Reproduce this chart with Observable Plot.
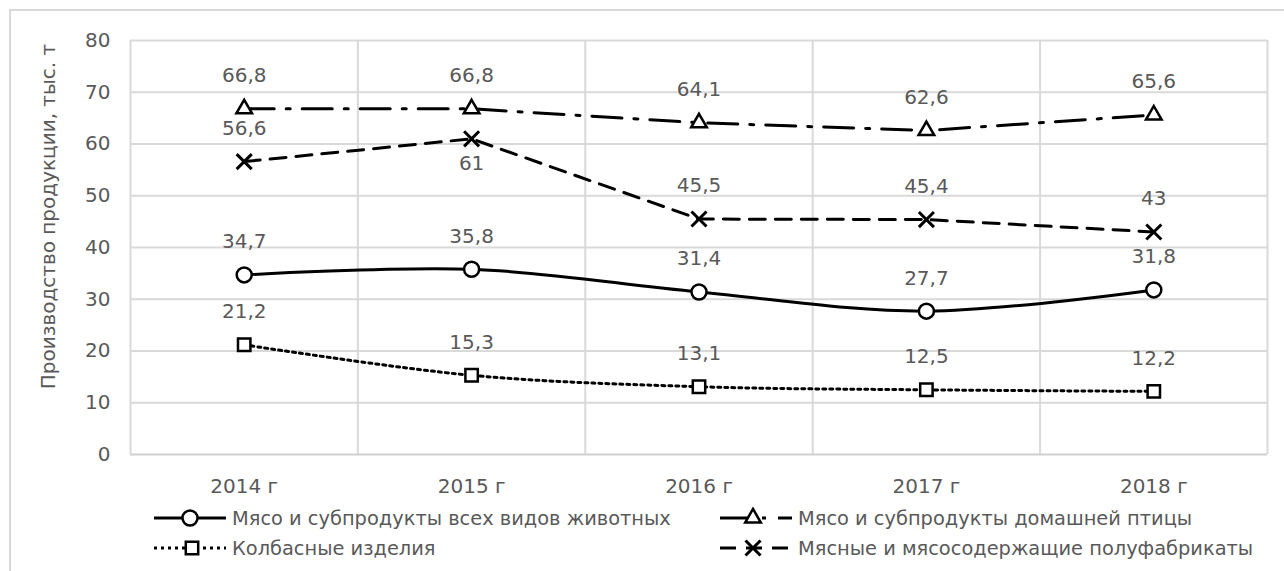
<!DOCTYPE html>
<html>
<head>
<meta charset="utf-8">
<script src="https://cdn.jsdelivr.net/npm/d3@7"></script>
<script src="https://cdn.jsdelivr.net/npm/@observablehq/plot@0.6"></script>
<style>
  html, body { margin: 0; padding: 0; background: #fff; overflow: hidden; }
  body { width: 1284px; height: 571px; position: relative; font-family: "DejaVu Sans", sans-serif; }
  #frame { position: absolute; left: 9px; top: 9px; width: 2000px; height: 2000px;
           border-left: 2px solid #d9d9d9; border-top: 2px solid #d9d9d9; }
  #chart { position: absolute; left: 0; top: 0; }
  #legend { position: absolute; left: 0; top: 503px; width: 1284px; height: 60px; }
  .item { position: absolute; height: 30px; display: flex; align-items: center;
          font-size: 19.4px; color: #595959; white-space: nowrap; }
  .item svg { display: block; margin-right: 6px; }
</style>
</head>
<body>
<div id="frame"></div>
<div id="chart"></div>
<div id="legend"></div>
<script>
// ---- data ----
const categories = ["2014 г", "2015 г", "2016 г", "2017 г", "2018 г"];
const seriesNames = [
  "Мясо и субпродукты всех видов животных",
  "Мясо и субпродукты домашней птицы",
  "Колбасные изделия",
  "Мясные и мясосодержащие полуфабрикаты"
];
const meatAll = [34.7, 35.8, 31.4, 27.7, 31.8];
const poultry = [66.8, 66.8, 64.1, 62.6, 65.6];
const sausage = [21.2, 15.3, 13.1, 12.5, 12.2];
const semiFinished = [56.6, 61, 45.5, 45.4, 43];
const yTicks = [0, 10, 20, 30, 40, 50, 60, 70, 80];
const yTitle = "Производство продукции, тыс. т";

// ---- styles per series ----
const series = [
  {name: seriesNames[0], values: meatAll, dash: null, width: 3, symbol: "circle", r: 7.5, curve: "catmull-rom"},
  {name: seriesNames[1], values: poultry, dash: "30,12,4,12", width: 3, symbol: "triangle", r: 5.8, curve: "linear"},
  {name: seriesNames[2], values: sausage, dash: "3,4", width: 3, symbol: "square", r: 7, curve: "catmull-rom"},
  {name: seriesNames[3], values: semiFinished, dash: "16,10", width: 3, symbol: "times", r: 6.9, curve: "linear"}
];

const n = categories.length;
const rows = series.map((s, k) => s.values.map((v, i) => ({k, i, v, name: s.name})));
const fmt = v => String(v).replace(".", ",");
const txt = "#595959";
const grid = "#d9d9d9";

const marks = [
  Plot.ruleY(yTicks.filter(t => t > 0), {stroke: grid, strokeWidth: 2}),
  Plot.ruleX(d3.range(-0.5, n), {stroke: grid, strokeWidth: 2}),
  Plot.ruleY([0], {stroke: "#d0d0d0", strokeWidth: 2}),
  Plot.axisY({ticks: yTicks, tickSize: 0, tickPadding: 20, label: null, fill: txt}),
  Plot.axisX({ticks: d3.range(n), tickFormat: i => categories[i], tickSize: 0, tickPadding: 24, label: null, fill: txt}),
  Plot.text([yTitle], {frameAnchor: "left", textAnchor: "middle", rotate: -90, dx: -82, dy: -31, fill: txt, fontSize: 20})
];

series.forEach((s, k) => {
  marks.push(Plot.line(rows[k], {
    x: "i", y: "v", stroke: "black", strokeWidth: s.width,
    strokeDasharray: s.dash || undefined, curve: s.curve
  }));
});
series.forEach((s, k) => {
  marks.push(Plot.dot(rows[k], {
    x: "i", y: "v", symbol: s.symbol, r: s.r, stroke: "black",
    strokeWidth: s.symbol === "times" ? 3 : 2.5, fill: s.symbol === "times" ? "none" : "white"
  }));
});
// data labels: above the point, except the peak of the semi-finished series (below)
series.forEach((s, k) => {
  marks.push(Plot.text(rows[k].filter(d => !(k === 3 && d.i === 1)), {
    x: "i", y: "v", text: d => fmt(d.v), fill: txt, fontSize: 20, dy: -33
  }));
});
marks.push(Plot.text(rows[3].filter(d => d.i === 1), {
  x: "i", y: "v", text: d => fmt(d.v), fill: txt, fontSize: 20, dy: 25
}));

const chart = Plot.plot({
  width: 1284,
  height: 503,
  marginLeft: 130,
  marginRight: 17,
  marginTop: 40,
  marginBottom: 49,
  x: {domain: [-0.5, n - 0.5]},
  y: {domain: [0, 80]},
  style: {fontFamily: "DejaVu Sans", fontSize: "20px", color: txt, background: "transparent"},
  marks
});
document.getElementById("chart").appendChild(chart);

// ---- legend ----
const legend = d3.select("#legend");
const legendPos = [
  {left: 154, top: 0, mx: 36},
  {left: 720, top: 0, mx: 33},
  {left: 154, top: 30, mx: 38},
  {left: 720, top: 30, mx: 33}
];
const symMap = {circle: d3.symbolCircle, triangle: d3.symbolTriangle, square: d3.symbolSquare, times: d3.symbolTimes};
series.forEach((s, k) => {
  const p = legendPos[k];
  const item = legend.append("div").attr("class", "item")
    .style("left", p.left + "px").style("top", p.top + "px");
  const svg = item.append("svg").attr("width", 72).attr("height", 30);
  svg.append("line").attr("x1", 0).attr("x2", 72).attr("y1", 15).attr("y2", 15)
    .attr("stroke", "black").attr("stroke-width", s.width)
    .attr("stroke-dasharray", s.dash);
  svg.append("path")
    .attr("transform", `translate(${p.mx},15)`)
    .attr("d", d3.symbol(symMap[s.symbol], Math.PI * s.r * s.r)())
    .attr("fill", s.symbol === "times" ? "none" : "white")
    .attr("stroke", "black").attr("stroke-width", s.symbol === "times" ? 3 : 2.5);
  item.append("span").text(s.name);
});
</script>
</body>
</html>
